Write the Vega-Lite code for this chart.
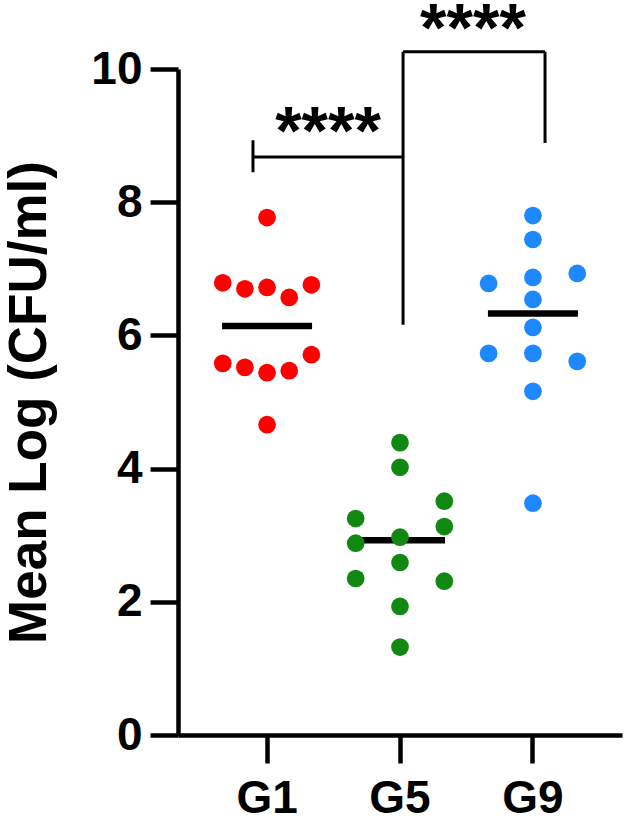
{
  "$schema": "https://vega.github.io/schema/vega-lite/v6.json",
  "width": 444,
  "height": 666,
  "autosize": {"type": "none"},
  "padding": {"left": 178, "top": 69, "right": 3, "bottom": 89},
  "background": "white",
  "config": {
    "view": {"stroke": null},
    "font": "Liberation Sans",
    "axis": {
      "domainColor": "black", "domainWidth": 4.5,
      "tickColor": "black", "tickWidth": 4.5, "tickSize": 28,
      "labelColor": "black", "labelFont": "Liberation Sans", "labelFontWeight": "bold", "labelFontSize": 46,
      "titleColor": "black", "titleFont": "Liberation Sans", "titleFontWeight": "bold", "titleFontSize": 53,
      "grid": false
    },
    "axisY": {"labelPadding": 8, "titlePadding": 34},
    "axisX": {"labelPadding": 13, "labelAngle": 0}
  },
  "datasets": {
    "points": [
      {"group": "G1", "col": 0, "value": 7.77},
      {"group": "G1", "col": -2, "value": 6.79},
      {"group": "G1", "col": -1, "value": 6.70},
      {"group": "G1", "col": 0, "value": 6.72},
      {"group": "G1", "col": 1, "value": 6.57},
      {"group": "G1", "col": 2, "value": 6.76},
      {"group": "G1", "col": -2, "value": 5.58},
      {"group": "G1", "col": -1, "value": 5.52},
      {"group": "G1", "col": 0, "value": 5.44},
      {"group": "G1", "col": 1, "value": 5.47},
      {"group": "G1", "col": 2, "value": 5.71},
      {"group": "G1", "col": 0, "value": 4.66},
      {"group": "G5", "col": 0, "value": 4.39},
      {"group": "G5", "col": 0, "value": 4.02},
      {"group": "G5", "col": 2, "value": 3.51},
      {"group": "G5", "col": -2, "value": 3.25},
      {"group": "G5", "col": 2, "value": 3.13},
      {"group": "G5", "col": -2, "value": 2.88},
      {"group": "G5", "col": 0, "value": 2.97},
      {"group": "G5", "col": 0, "value": 2.59},
      {"group": "G5", "col": -2, "value": 2.35},
      {"group": "G5", "col": 2, "value": 2.31},
      {"group": "G5", "col": 0, "value": 1.93},
      {"group": "G5", "col": 0, "value": 1.32},
      {"group": "G9", "col": 0, "value": 7.80},
      {"group": "G9", "col": 0, "value": 7.44},
      {"group": "G9", "col": -2, "value": 6.78},
      {"group": "G9", "col": 0, "value": 6.87},
      {"group": "G9", "col": 2, "value": 6.93},
      {"group": "G9", "col": 0, "value": 6.54},
      {"group": "G9", "col": 0, "value": 6.12},
      {"group": "G9", "col": -2, "value": 5.73},
      {"group": "G9", "col": 0, "value": 5.73},
      {"group": "G9", "col": 2, "value": 5.61},
      {"group": "G9", "col": 0, "value": 5.16},
      {"group": "G9", "col": 0, "value": 3.48}
    ],
    "brackets": [
      {"x": -0.106, "x2": 1.023, "y": 8.68, "y2": 8.68},
      {"x": -0.106, "x2": -0.106, "y": 8.45, "y2": 8.93},
      {"x": 1.023, "x2": 1.023, "y": 6.16, "y2": 10.26},
      {"x": 1.023, "x2": 2.091, "y": 10.26, "y2": 10.26},
      {"x": 2.091, "x2": 2.091, "y": 10.26, "y2": 8.89}
    ],
    "stars": [
      {"x": 0.459, "y": 9.03, "label": "****"},
      {"x": 1.549, "y": 10.57, "label": "****"}
    ]
  },
  "layer": [
    {
      "data": {"name": "points"},
      "layer": [
        {
          "mark": {"type": "tick", "size": 90, "thickness": 6.5, "color": "black"},
          "encoding": {
            "x": {"field": "group", "type": "nominal", "title": null,
                  "scale": {"domain": ["G1", "G5", "G9"], "paddingInner": 0, "paddingOuter": 0.17}},
            "y": {"aggregate": "median", "field": "value", "type": "quantitative",
                  "title": "Mean Log (CFU/ml)", "axis": {"values": [0, 2, 4, 6, 8, 10], "format": "d"},
                  "scale": {"domain": [0, 10], "nice": false}}
          }
        },
        {
          "mark": {"type": "circle", "size": 314, "opacity": 1},
          "encoding": {
            "x": {"field": "group", "type": "nominal", "title": null,
                  "scale": {"domain": ["G1", "G5", "G9"], "paddingInner": 0, "paddingOuter": 0.17}},
            "xOffset": {"field": "col", "type": "ordinal",
                        "scale": {"domain": [-2, -1, 0, 1, 2], "paddingInner": 0, "paddingOuter": 1.34}},
            "y": {"field": "value", "type": "quantitative", "title": "Mean Log (CFU/ml)",
                  "axis": {"values": [0, 2, 4, 6, 8, 10], "format": "d"},
                  "scale": {"domain": [0, 10], "nice": false}},
            "color": {"field": "group", "type": "nominal", "legend": null,
                      "scale": {"domain": ["G1", "G5", "G9"], "range": ["#FF0000", "#118811", "#1E88FF"]}}
          }
        }
      ]
    },
    {
      "data": {"name": "brackets"},
      "mark": {"type": "rule", "color": "black", "strokeWidth": 3},
      "encoding": {
        "x": {"field": "x", "type": "quantitative", "axis": null,
              "scale": {"domain": [-0.67, 2.67], "nice": false, "zero": false}},
        "x2": {"field": "x2"},
        "y": {"field": "y", "type": "quantitative", "title": "Mean Log (CFU/ml)",
              "axis": {"values": [0, 2, 4, 6, 8, 10], "format": "d"},
              "scale": {"domain": [0, 10], "nice": false}},
        "y2": {"field": "y2"}
      }
    },
    {
      "data": {"name": "stars"},
      "mark": {"type": "text", "fontSize": 68, "fontWeight": "bold", "font": "Liberation Sans",
               "align": "center", "baseline": "middle", "color": "black"},
      "encoding": {
        "x": {"field": "x", "type": "quantitative", "axis": null,
              "scale": {"domain": [-0.67, 2.67], "nice": false, "zero": false}},
        "y": {"field": "y", "type": "quantitative", "title": "Mean Log (CFU/ml)",
              "axis": {"values": [0, 2, 4, 6, 8, 10], "format": "d"},
              "scale": {"domain": [0, 10], "nice": false}},
        "text": {"field": "label"}
      }
    }
  ],
  "resolve": {"scale": {"x": "independent"}, "axis": {"x": "independent"}}
}
